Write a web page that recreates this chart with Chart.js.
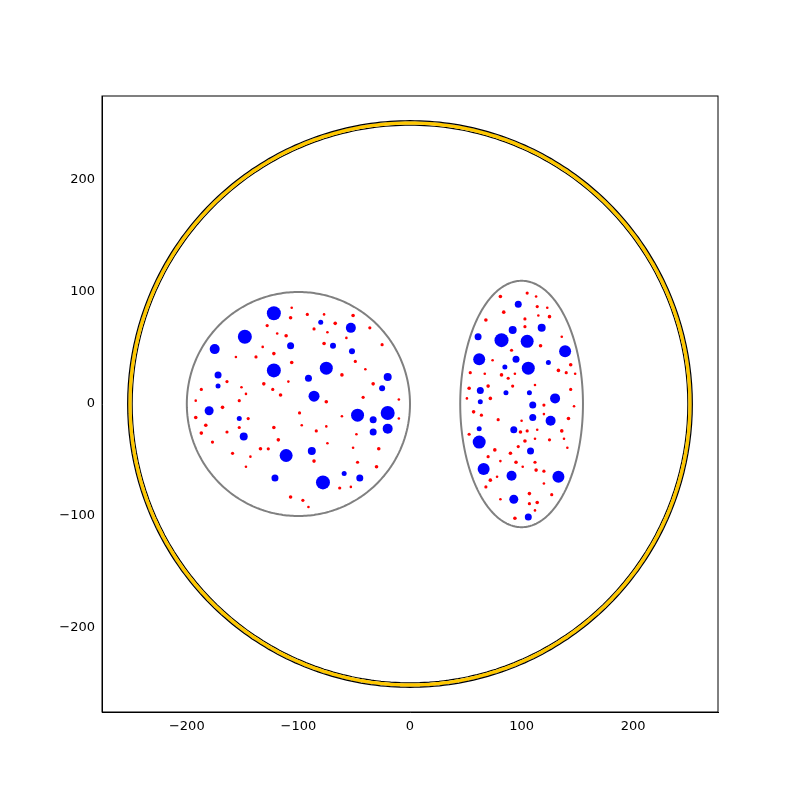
<!DOCTYPE html>
<html><head><script src="https://cdn.jsdelivr.net/npm/chart.js"></script>
<style>body{margin:0;background:#fff}</style></head>
<body><canvas id="c" width="800" height="800"></canvas>
<script>
const tickValues=[-200,-100,0,100,200];
// blue points [x,y,radius]
const blueLeft=[[-122,81,7],[-148,60,7],[-175,49,5],[-107,52,3.5],[-80,73,2.5],[-53,68,5],[-52,47,3],[-69,52,3],[-122,30,7],[-75,32,6.5],[-86,7,5.5],[-91,23,3.5],[-172,26,3.5],[-172,16,2.5],[-180,-6,4.5],[-153,-13,2.5],[-149,-29,4],[-47,-10,6.5],[-20,-8,7],[-20,-22,5],[-20,24,4],[-25,14,3],[-33,-14,3.5],[-33,-25,3.5],[-111,-46,6.5],[-88,-42,4],[-121,-66,3.5],[-78,-70,7],[-59,-62,2.5],[-45,-66,3.5]];
const blueRight=[[97,89,3.5],[92,66,4],[61,60,3.5],[82,57,7],[105,56,6.5],[118,68,4],[62,40,6],[139,47,6],[95,40,3.5],[106,32,6.5],[85,33,2.5],[124,37,2.5],[63,12,3.5],[63,2,2.5],[86,10,2.5],[107,10,2.5],[130,5,5],[110,-1,3.5],[110,-12,3.5],[126,-15,5],[62,-22,2.5],[62,-34,6.5],[93,-23,3.5],[108,-42,3.5],[66,-58,6],[91,-64,5],[133,-65,6],[93,-85,4.5],[106,-101,3.5]];
const redLeft=[[-106,86],[-107,77],[-92,80],[-77,80],[-51,79],[-128,70],[-119,63],[-111,61],[-86,67],[-74,64],[-67,72],[-36,68],[-57,59],[-77,54],[-25,53],[-132,51],[-122,45],[-138,42],[-156,42],[-106,37],[-49,38],[-40,31],[-61,26],[-164,20],[-151,15],[-131,18],[-123,13],[-109,20],[-33,18],[-187,13],[-147,9],[-116,8],[-153,3],[-192,3],[-75,2],[-42,6],[-10,4],[-168,-3],[-99,-8],[-61,-11],[-192,-12],[-145,-13],[-10,-13],[-183,-19],[-153,-21],[-97,-19],[-122,-21],[-84,-24],[-75,-20],[-187,-26],[-164,-25],[-48,-27],[-118,-32],[-177,-34],[-74,-35],[-134,-40],[-127,-40],[-51,-39],[-28,-40],[-159,-44],[-143,-47],[-86,-51],[-47,-52],[-147,-56],[-30,-56],[-63,-75],[-53,-74],[-107,-83],[-96,-86],[-91,-92]];
const redRight=[[81,96],[105,99],[113,96],[84,82],[114,87],[123,86],[68,75],[103,76],[115,79],[125,78],[103,69],[136,60],[117,52],[91,48],[74,39],[144,35],[54,28],[67,27],[82,26],[88,23],[94,27],[133,30],[140,28],[148,27],[70,16],[92,16],[112,17],[53,14],[144,13],[51,5],[72,5],[120,-1],[147,-2],[57,-7],[64,-10],[120,-9],[142,-13],[79,-14],[100,-15],[99,-25],[105,-24],[114,-23],[136,-24],[53,-27],[112,-31],[103,-33],[125,-32],[138,-31],[76,-41],[97,-38],[141,-39],[90,-44],[70,-47],[81,-51],[95,-52],[112,-52],[101,-56],[113,-59],[120,-60],[78,-65],[72,-68],[68,-74],[120,-71],[107,-80],[127,-81],[81,-85],[114,-88],[107,-89],[112,-95],[94,-102]];
const redSizes=[1.3,1.8,1.6];
const outerR=251, leftC=[-100,0,100,100], rightC=[100,0,55,110];
function ring(cx,cy,rx,ry){const p=[];for(let i=0;i<=360;i+=2){const a=i*Math.PI/180;p.push({x:cx+rx*Math.cos(a),y:cy+ry*Math.sin(a)});}return p;}
const reds=redLeft.concat(redRight), blues=blueLeft.concat(blueRight);
const line=(d,c,w)=>({type:'line',data:d,borderColor:c,borderWidth:w,pointRadius:0,fill:false,tension:0.001});
const fmt=v=>String(v).replace('-','\u2212');
new Chart(document.getElementById('c'),{
 type:'scatter',
 data:{datasets:[
  line(ring(0,0,outerR+2,outerR+2),'#000',1.2),
  line(ring(0,0,outerR,outerR),'#FFC800',3.5),
  line(ring(0,0,outerR-2,outerR-2),'#000',1.2),
  line(ring(...leftC),'#808080',2),
  line(ring(...rightC),'#808080',2),
  {data:reds.map(p=>({x:p[0],y:p[1]})),backgroundColor:'#ff0000',borderWidth:0,pointRadius:reds.map((p,i)=>redSizes[i%3])},
  {data:blues.map(p=>({x:p[0],y:p[1]})),backgroundColor:'#0000ff',borderWidth:0,pointRadius:blues.map(p=>p[2])}
 ]},
 options:{responsive:false,animation:false,devicePixelRatio:1,
  layout:{padding:{left:0,top:96,right:82,bottom:0}},
  plugins:{legend:{display:false},tooltip:{enabled:false}},
  scales:{
   x:{type:'linear',min:-276,max:276,afterFit:s=>{s.height=88},grid:{display:false,drawTicks:true,tickLength:4,tickColor:'#000'},border:{color:'#000'},
      afterBuildTicks:a=>{a.ticks=tickValues.map(v=>({value:v}))},ticks:{color:'#000',font:{family:'DejaVu Sans',size:13},maxRotation:0,callback:fmt}},
   y:{type:'linear',min:-275,max:275,afterFit:s=>{s.width=102},grid:{display:false,tickLength:4,tickColor:'#000'},border:{color:'#000'},
      afterBuildTicks:a=>{a.ticks=tickValues.map(v=>({value:v}))},ticks:{color:'#000',font:{family:'DejaVu Sans',size:13},callback:fmt}}
  }},
 plugins:[{id:'box',afterDraw(c){const a=c.chartArea,x=c.ctx;x.save();x.strokeStyle='#000';x.lineWidth=1;x.strokeRect(a.left,a.top,a.right-a.left,a.bottom-a.top);x.restore();}}]
});
</script>
</body></html>
